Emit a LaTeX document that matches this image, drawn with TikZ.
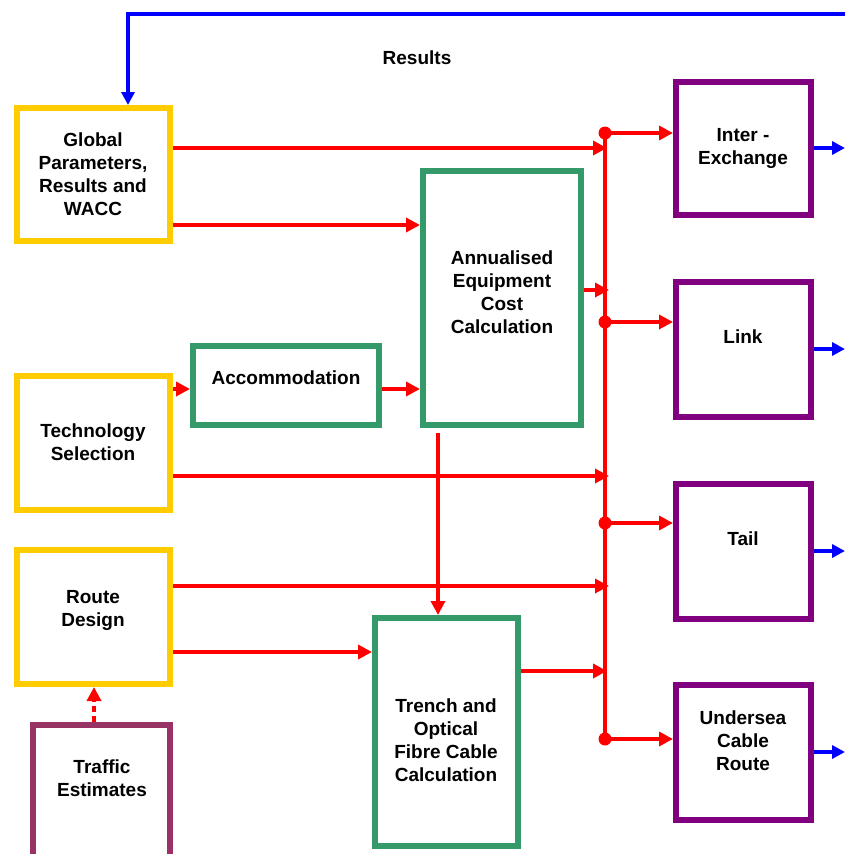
\documentclass[tikz,border=0pt]{standalone}
\usepackage{fontspec}
\setmainfont{Liberation Sans}
\usetikzlibrary{arrows.meta}
\definecolor{cyel}{HTML}{FFCC00}
\definecolor{cgrn}{HTML}{359A69}
\definecolor{cpur}{HTML}{800080}
\definecolor{ctraf}{HTML}{993366}
\definecolor{cred}{HTML}{FF0000}
\definecolor{cblu}{HTML}{0000FF}
\tikzset{
  box/.style={draw=#1, line width=6pt, inner sep=0pt, rectangle},
  txt/.style={font=\fontsize{19}{23}\selectfont\bfseries, align=center, inner sep=0pt},
  rline/.style={draw=cred, line width=4pt},
  rarr/.style={rline, -{Triangle[length=14pt,width=14pt]}},
  barr/.style={draw=cblu, line width=4pt, -{Triangle[length=13pt,width=13pt]}},
  dotarr/.style={rarr, dash pattern=on 6pt off 4pt},
}
\begin{document}
\begin{tikzpicture}[x=1pt,y=-1pt]
\clip (0,0) rectangle (845,854);
\fill[white] (0,0) rectangle (845,854);
% boxes
\node[box=cyel, minimum width=153pt, minimum height=133pt] (glob) at (93.5,174.5) {};
\node[box=cyel, minimum width=153pt, minimum height=134pt] (tech) at (93.5,443) {};
\node[box=cyel, minimum width=153pt, minimum height=134pt] (route) at (93.5,617) {};
\node[box=ctraf, minimum width=137pt, minimum height=175pt] (traf) at (101.5,812.5) {};
\node[box=cgrn, minimum width=186pt, minimum height=79pt] (acc) at (286,385.5) {};
\node[box=cgrn, minimum width=158pt, minimum height=254pt] (ann) at (502,298) {};
\node[box=cgrn, minimum width=143pt, minimum height=228pt] (trench) at (446.5,732) {};
\node[box=cpur, minimum width=135pt, minimum height=133pt] (inter) at (743.5,148.5) {};
\node[box=cpur, minimum width=135pt, minimum height=135pt] (link) at (743.5,349.5) {};
\node[box=cpur, minimum width=135pt, minimum height=135pt] (tail) at (743.5,551.5) {};
\node[box=cpur, minimum width=135pt, minimum height=135pt] (under) at (743.5,752.5) {};
% texts
\node[txt] (globt) at (93,174) {Global\\Parameters,\\Results and\\WACC};
\node[txt] (techt) at (93,442) {Technology\\Selection};
\node[txt] (routet) at (93,610) {Route\\Design};
\node[txt] (traft) at (102,778) {Traffic\\Estimates};
\node[txt] (acct) at (286,378) {Accommodation};
\node[txt] (annt) at (502,292) {Annualised\\Equipment\\Cost\\Calculation};
\node[txt] (trencht) at (446,740) {Trench and\\Optical\\Fibre Cable\\Calculation};
\node[txt] (intert) at (743,148) {Inter -\\Exchange};
\node[txt] (linkt) at (743,337) {Link};
\node[txt] (tailt) at (743,539) {Tail};
\node[txt] (undert) at (743,741) {Undersea\\Cable\\Route};
\node[txt] (res) at (417,58) {Results};
% bus
\coordinate (b1) at (605,133);
\coordinate (b2) at (605,322);
\coordinate (b3) at (605,523);
\coordinate (b4) at (605,739);
\draw[rline] (b1) -- (b4);
\foreach \p in {b1,b2,b3,b4} \fill[cred] (\p) circle (6.5pt);
\draw[rarr] (b1) -- (inter.west |- b1);
\draw[rarr] (b2) -- (link.west |- b2);
\draw[rarr] (b3) -- (tail.west |- b3);
\draw[rarr] (b4) -- (under.west |- b4);
% inputs to bus
\draw[rarr] (glob.east |- 0,148) -- (607,148);
\draw[rarr] (ann.east |- 0,290) -- (609,290);
\draw[rarr] (tech.east |- 0,476) -- (609,476);
\draw[rarr] (route.east |- 0,586) -- (609,586);
\draw[rarr] (trench.east |- 0,671) -- (607,671);
% other red arrows
\draw[rarr] (glob.east |- 0,225) -- (ann.west |- 0,225);
\draw[rarr] (tech.east |- 0,389) -- (acc.west |- 0,389);
\draw[rarr] (acc.east |- 0,389) -- (ann.west |- 0,389);
\draw[rarr, shorten <=5pt] (ann.south -| 438,0) -- (trench.north -| 438,0);
\draw[rarr] (route.east |- 0,652) -- (trench.west |- 0,652);
\draw[dotarr] (traf.north -| 94,0) -- (route.south -| 94,0);
% blue
\draw[barr] (845,14) -| (glob.north -| 128,0);
\draw[barr] (inter.east |- 0,148) -- (845,148);
\draw[barr] (link.east |- 0,349) -- (845,349);
\draw[barr] (tail.east |- 0,551) -- (845,551);
\draw[barr] (under.east |- 0,752) -- (845,752);
\end{tikzpicture}
\end{document}
